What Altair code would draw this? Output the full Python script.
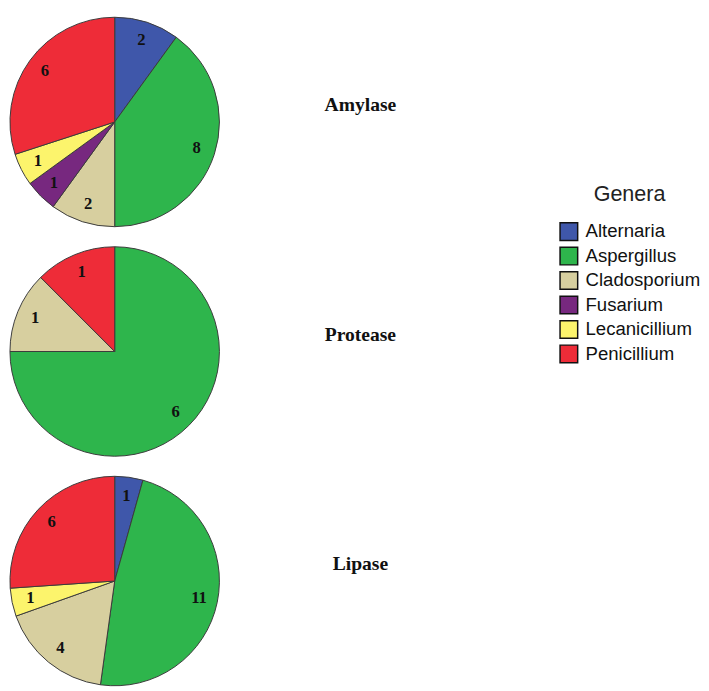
import math
import altair as alt
import pandas as pd

enzymes = ["Amylase", "Protease", "Lipase"]
genera = ["Alternaria", "Aspergillus", "Cladosporium", "Fusarium", "Lecanicillium", "Penicillium"]
colors = ["#3f57aa", "#2eb54c", "#d7cf9f", "#77287f", "#fcf46c", "#ee2c38"]

amylase_counts = [2, 8, 2, 1, 1, 6]
protease_counts = [0, 6, 1, 0, 0, 1]
lipase_counts = [1, 11, 4, 0, 1, 6]

rows = []
for enz, counts in zip(enzymes, [amylase_counts, protease_counts, lipase_counts]):
    for g, c in zip(genera, counts):
        if c > 0:
            rows.append({"enzyme": enz, "genus": g, "count": c})
df = pd.DataFrame(rows)
labels_df = pd.DataFrame({"enzyme": enzymes})

yscale = alt.Scale(type="point", domain=enzymes, padding=0.4563)
theta_scale = alt.Scale(domain=[0, 1], range=[0, 2 * math.pi])

base = alt.Chart(df).transform_stack(
    stack="count",
    groupby=["enzyme"],
    as_=["s0", "s1"],
    offset="normalize",
    sort=[alt.SortField("genus", order="ascending")],
).transform_calculate(mid="(datum.s0 + datum.s1) / 2")

arcs = base.mark_arc(outerRadius=107, stroke="#3a3a3a", strokeWidth=1).encode(
    x=alt.value(107),
    y=alt.Y("enzyme:N", scale=yscale, axis=None),
    theta=alt.Theta("s0:Q", scale=theta_scale),
    theta2="s1:Q",
    color=alt.Color(
        "genus:N",
        scale=alt.Scale(domain=genera, range=colors),
        legend=alt.Legend(
            title="Genera",
            orient="none",
            legendX=561,
            legendY=171,
            titleFont="Liberation Sans",
            titleFontSize=22,
            titleFontWeight="normal",
            titleColor="#222222",
            titleAnchor="middle",
            titleAlign="center",
            titlePadding=16,
            labelFont="Liberation Sans",
            labelFontSize=19,
            labelColor="#111111",
            labelOffset=7,
            symbolType="square",
            symbolSize=324,
            symbolStrokeColor="#111111",
            symbolStrokeWidth=1.5,
            rowPadding=1,
        ),
    ),
)

nums = base.mark_text(
    radius=88, font="Liberation Serif", fontSize=17, fontWeight="bold", color="#111111"
).encode(
    x=alt.value(107),
    y=alt.Y("enzyme:N", scale=yscale, axis=None),
    theta=alt.Theta("mid:Q", scale=theta_scale),
    text="count:Q",
)

names = alt.Chart(labels_df).mark_text(
    font="Liberation Serif", fontSize=20, fontWeight="bold", color="#111111", dy=-17
).encode(
    x=alt.value(358),
    y=alt.Y("enzyme:N", scale=yscale, axis=None),
    text="enzyme:N",
)

chart = alt.layer(arcs, nums, names).properties(
    width=693, height=683, padding=0
).configure_view(stroke=None)

chart.save("out.html", embed_options={"renderer": "svg", "actions": False})
